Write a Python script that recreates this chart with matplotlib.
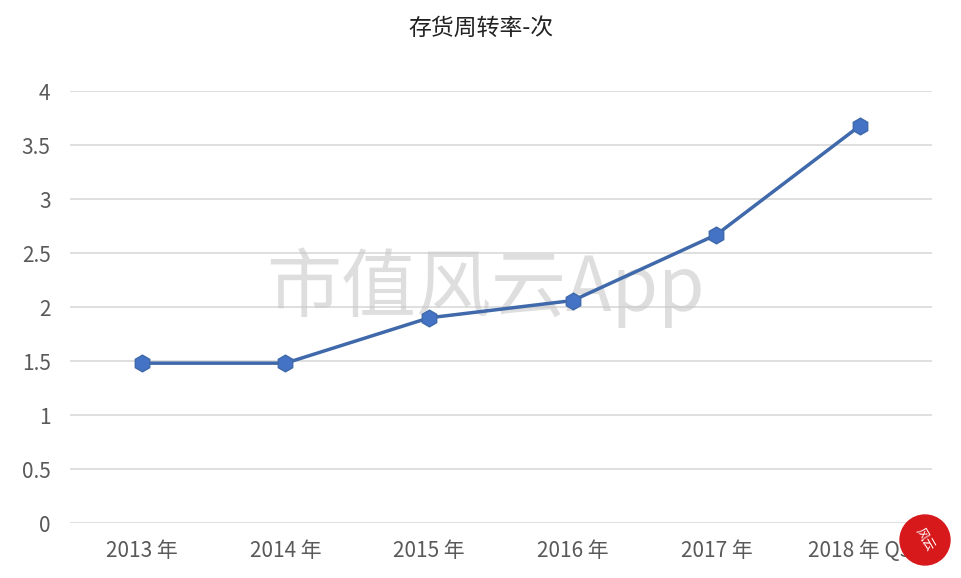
import matplotlib.pyplot as plt
from matplotlib.patches import Ellipse

plt.rcParams['font.family'] = ['Noto Sans CJK SC', 'DejaVu Sans']

# data
categories = ['2013 年', '2014 年', '2015 年', '2016 年', '2017 年', '2018 年 Q3']
turnover = [1.48, 1.48, 1.90, 2.06, 2.67, 3.68]
yticks = [0, 0.5, 1, 1.5, 2, 2.5, 3, 3.5, 4]

W, H = 962, 578
fig = plt.figure(figsize=(W / 100, H / 100), dpi=100)
ax = fig.add_axes([70 / W, 55 / H, 862 / W, 432 / H])

x = list(range(len(categories)))
ax.plot(x, turnover, color='#3F69AA', linewidth=2.5, marker='h',
        markersize=12, markerfacecolor='#4472C4', markeredgecolor='#3F69AA', zorder=3)

ax.set_xlim(-0.5, len(categories) - 0.5)
ax.set_ylim(0, 4)
ax.set_yticks(yticks)
ax.set_yticklabels([f'{v:g}' for v in yticks])
ax.set_xticks(x)
ax.set_xticklabels(categories)
ax.grid(axis='y', color='#d9d9d9', linewidth=1.2)
ax.set_axisbelow(True)
for s in ax.spines.values():
    s.set_visible(False)
ax.tick_params(length=0, labelsize=15, colors='#595959')
ax.tick_params(axis='y', pad=14)
ax.tick_params(axis='x', pad=12)

fig.text(0.5, 1 - 28 / H, '存货周转率-次', ha='center', va='center',
         fontsize=16.5, color='#222222')

# watermark, under the line
ax.text(485 / W, 1 - 288 / H, '市值风云App', ha='center', va='center',
        fontsize=54, color='#c8c8c8', alpha=0.6, zorder=1,
        transform=fig.transFigure)

# stamp
stamp = Ellipse((925 / W, 1 - 540 / H), 50 / W, 50 / H, transform=fig.transFigure,
                color='#d7191c', zorder=5)
fig.add_artist(stamp)
fig.text(925 / W, 1 - 540 / H, '风云', ha='center', va='center',
         fontsize=9, color='white', rotation=-60, zorder=6)

fig.savefig('out.png', dpi=100)
